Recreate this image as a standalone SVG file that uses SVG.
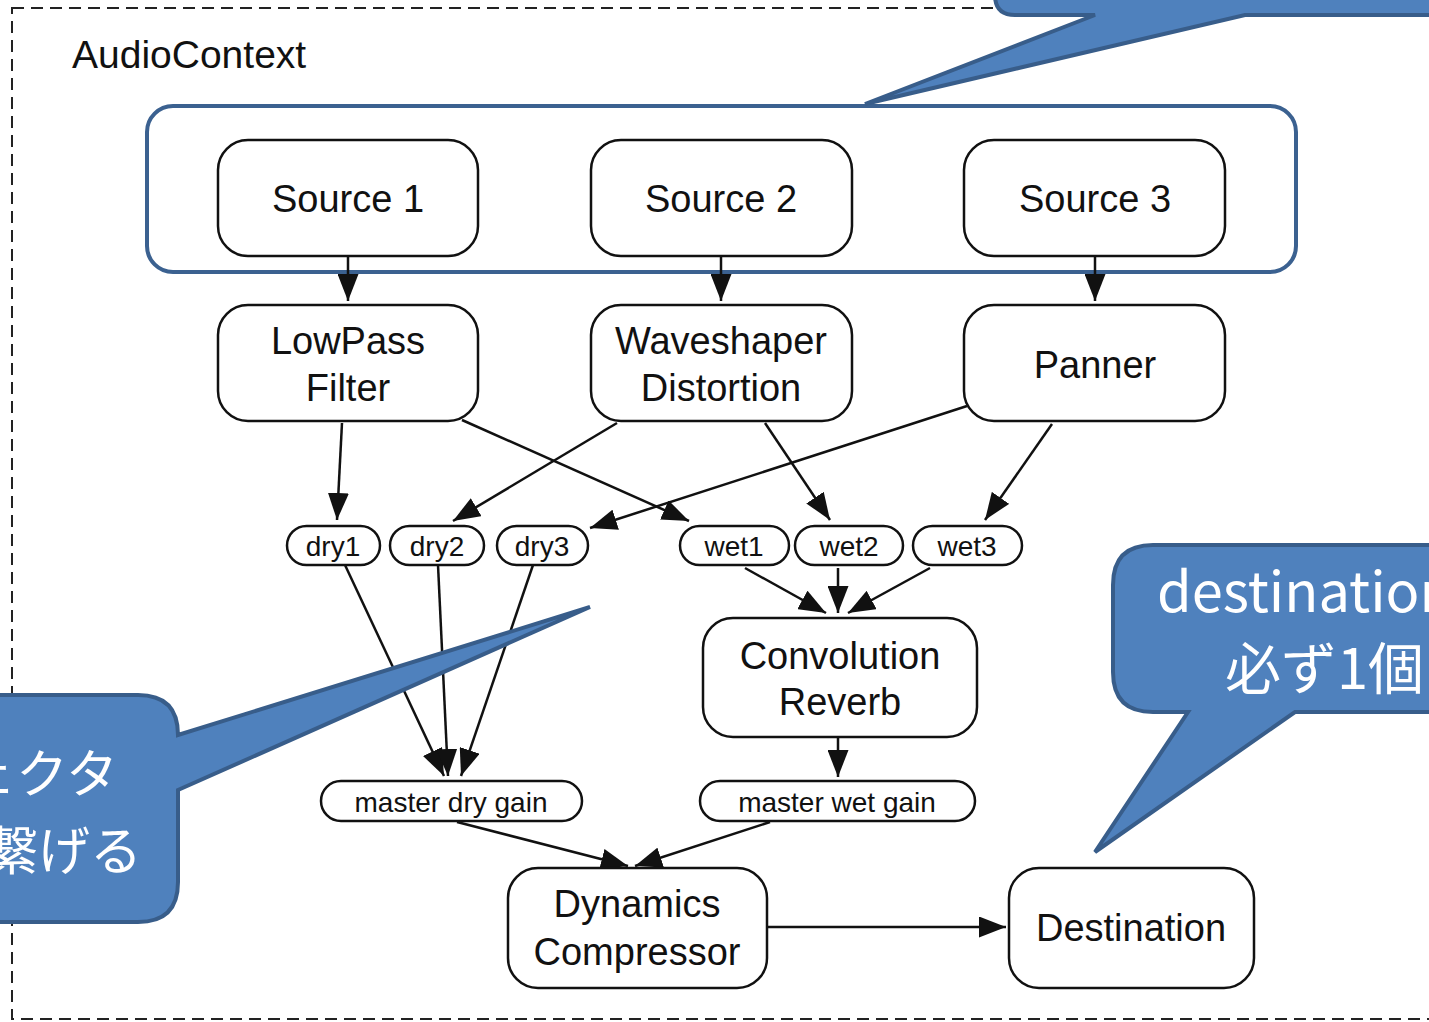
<svg xmlns="http://www.w3.org/2000/svg" width="1429" height="1022" viewBox="0 0 1429 1022">
<style>
.node rect{fill:#fff;stroke:#111;stroke-width:2.5}
.t{font-family:"Liberation Sans",Arial,sans-serif;fill:#111;text-anchor:middle}
.big{font-size:38px}
.sm{font-size:28px}
.conn line{stroke:#111;stroke-width:2.5;marker-end:url(#ah)}
.callout path{fill:#4F81BD;stroke:#385D8A;stroke-width:4;stroke-linejoin:miter}
.ct{font-family:"Noto Sans CJK JP","Noto Sans",sans-serif;fill:#fff}
</style>
<defs>
<marker id="ah" markerWidth="27" markerHeight="21" refX="27" refY="10.5" orient="auto" markerUnits="userSpaceOnUse">
<path d="M0,0 L27,10.5 L0,21 z" fill="#111"/>
</marker>
</defs>
<rect width="1429" height="1022" fill="#fff"/>
<g id="audiocontext">
<rect x="12" y="8" width="1500" height="1011" fill="none" stroke="#222" stroke-width="2" stroke-dasharray="12 7"/>
<text x="72" y="68" class="t" style="text-anchor:start;font-size:39px">AudioContext</text>
</g>
<g id="sources-group">
<rect x="147" y="106" width="1149" height="166" rx="26" fill="none" stroke="#3B6190" stroke-width="4"/>
</g>
<g id="connectors" class="conn">
<line x1="348" y1="256" x2="348" y2="301"/>
<line x1="721" y1="256" x2="721" y2="301"/>
<line x1="1095" y1="256" x2="1095" y2="301"/>
<line x1="342" y1="423" x2="337" y2="520"/>
<line x1="462" y1="420" x2="689" y2="521"/>
<line x1="617" y1="423" x2="453" y2="521"/>
<line x1="765" y1="423" x2="830" y2="520"/>
<line x1="967" y1="406" x2="590" y2="528"/>
<line x1="1052" y1="424" x2="985" y2="520"/>
<line x1="345" y1="565" x2="444" y2="776"/>
<line x1="438" y1="565" x2="448" y2="776"/>
<line x1="533" y1="565" x2="461" y2="776"/>
<line x1="745" y1="568" x2="826" y2="613"/>
<line x1="838" y1="568" x2="838" y2="613"/>
<line x1="930" y1="568" x2="848" y2="613"/>
<line x1="838" y1="738" x2="838" y2="777"/>
<line x1="457" y1="822" x2="628" y2="866"/>
<line x1="770" y1="822" x2="635" y2="866"/>
<line x1="767" y1="927" x2="1006" y2="927"/>
</g>
<g id="source1" class="node"><rect x="218" y="140" width="260" height="116" rx="30"/><text x="348" y="212" class="t big">Source 1</text></g>
<g id="source2" class="node"><rect x="591" y="140" width="261" height="116" rx="30"/><text x="721" y="212" class="t big">Source 2</text></g>
<g id="source3" class="node"><rect x="964" y="140" width="261" height="116" rx="30"/><text x="1095" y="212" class="t big">Source 3</text></g>
<g id="lowpass" class="node"><rect x="218" y="305" width="260" height="116" rx="30"/><text x="348" y="354" class="t big">LowPass</text><text x="348" y="401" class="t big">Filter</text></g>
<g id="waveshaper" class="node"><rect x="591" y="305" width="261" height="116" rx="30"/><text x="721" y="354" class="t big">Waveshaper</text><text x="721" y="401" class="t big">Distortion</text></g>
<g id="panner" class="node"><rect x="964" y="305" width="261" height="116" rx="30"/><text x="1095" y="378" class="t big">Panner</text></g>
<g id="dry1" class="node"><rect x="287" y="526" width="93" height="39" rx="19.5"/><text x="333" y="556" class="t sm">dry1</text></g>
<g id="dry2" class="node"><rect x="390" y="526" width="94" height="39" rx="19.5"/><text x="437" y="556" class="t sm">dry2</text></g>
<g id="dry3" class="node"><rect x="497" y="526" width="91" height="39" rx="19.5"/><text x="542" y="556" class="t sm">dry3</text></g>
<g id="wet1" class="node"><rect x="680" y="526" width="109" height="39" rx="19.5"/><text x="734" y="556" class="t sm">wet1</text></g>
<g id="wet2" class="node"><rect x="795" y="526" width="108" height="39" rx="19.5"/><text x="849" y="556" class="t sm">wet2</text></g>
<g id="wet3" class="node"><rect x="913" y="526" width="109" height="39" rx="19.5"/><text x="967" y="556" class="t sm">wet3</text></g>
<g id="convolution" class="node"><rect x="703" y="618" width="274" height="119" rx="30"/><text x="840" y="669" class="t big">Convolution</text><text x="840" y="715" class="t big">Reverb</text></g>
<g id="masterdry" class="node"><rect x="321" y="781" width="261" height="40" rx="20"/><text x="451" y="812" class="t sm">master dry gain</text></g>
<g id="masterwet" class="node"><rect x="700" y="781" width="275" height="40" rx="20"/><text x="837" y="812" class="t sm">master wet gain</text></g>
<g id="compressor" class="node"><rect x="508" y="868" width="259" height="120" rx="30"/><text x="637" y="917" class="t big">Dynamics</text><text x="637" y="965" class="t big">Compressor</text></g>
<g id="destination" class="node"><rect x="1009" y="868" width="245" height="120" rx="30"/><text x="1131" y="941" class="t big">Destination</text></g>
<g id="callout-top" class="callout">
<path d="M995,-50 L995,-5 Q995,15 1015,15 L1095,15 L865,104 L1245,15 L1440,15 L1440,-50 Z"/>
</g>
<g id="callout-left" class="callout">
<path d="M-50,695 L138,695 Q178,695 178,735 L590,607 L178,790 L178,882 Q178,922 138,922 L-50,922 Z"/>
<text x="118" y="793" class="ct" style="font-size:52px;text-anchor:end">ェクタ</text>
<text x="142" y="870" class="ct" style="font-size:52px;text-anchor:end">繋げる</text>
</g>
<g id="callout-right" class="callout">
<path d="M1440,545 L1153,545 Q1113,545 1113,585 L1113,672 Q1113,712 1153,712 L1188,712 L1095,852 L1295,712 L1440,712 Z"/>
<text x="1157" y="612" class="ct" style="font-size:56px">destination</text>
<text x="1225" y="689" class="ct" style="font-size:56px">必ず1個</text>
</g>
</svg>
